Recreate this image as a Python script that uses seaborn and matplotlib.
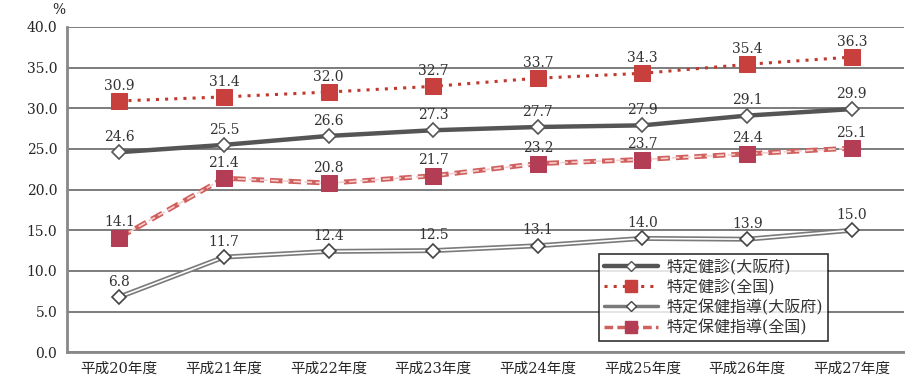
import pandas as pd
import seaborn as sns
import matplotlib.pyplot as plt
from matplotlib.lines import Line2D

# Data
years = ['平成20年度', '平成21年度', '平成22年度', '平成23年度',
         '平成24年度', '平成25年度', '平成26年度', '平成27年度']
kenshin_osaka = [24.6, 25.5, 26.6, 27.3, 27.7, 27.9, 29.1, 29.9]
kenshin_zenkoku = [30.9, 31.4, 32.0, 32.7, 33.7, 34.3, 35.4, 36.3]
shido_osaka = [6.8, 11.7, 12.4, 12.5, 13.1, 14.0, 13.9, 15.0]
shido_zenkoku = [14.1, 21.4, 20.8, 21.7, 23.2, 23.7, 24.4, 25.1]
labels = ['特定健診(大阪府)', '特定健診(全国)', '特定保健指導(大阪府)', '特定保健指導(全国)']

sns.set_style("white")
plt.rcParams['font.family'] = ['DejaVu Serif', 'Noto Sans CJK JP']

fig = plt.figure(figsize=(9.05, 3.85), dpi=100)
ax = fig.add_axes([0.074, 0.085, 0.925, 0.845])

red = '#c0392f'
gray_dark = '#555555'
gray_mid = '#7a7a7a'

# 特定健診(大阪府): thick dark line, white diamonds
sns.lineplot(x=years, y=kenshin_osaka, ax=ax, color=gray_dark, lw=3.2,
             marker='D', markersize=7, markerfacecolor='white',
             markeredgecolor=gray_dark, markeredgewidth=1.2, zorder=4)

# 特定健診(全国): red dotted, red squares
sns.lineplot(x=years, y=kenshin_zenkoku, ax=ax, color=red, lw=2.2,
             linestyle=(0, (1, 2)), marker='s', markersize=11,
             markerfacecolor='#c8403d', markeredgecolor='#c8403d', zorder=4)

# 特定保健指導(大阪府): double gray line
sns.lineplot(x=years, y=shido_osaka, ax=ax, color=gray_mid, lw=3.6, zorder=3)
sns.lineplot(x=years, y=shido_osaka, ax=ax, color='white', lw=1.2, zorder=3.1)
sns.lineplot(x=years, y=shido_osaka, ax=ax, color=gray_mid, lw=0, marker='D',
             markersize=7, markerfacecolor='white', markeredgecolor='#444444',
             markeredgewidth=1.2, zorder=4)

# 特定保健指導(全国): double red dashed line
sns.lineplot(x=years, y=shido_zenkoku, ax=ax, color='#d0605e', lw=3.6,
             linestyle=(0, (2.5, 1.2)), zorder=3)
sns.lineplot(x=years, y=shido_zenkoku, ax=ax, color='#f4d0cf', lw=1.2,
             linestyle=(0, (4.5, 2.2)), zorder=3.1)
sns.lineplot(x=years, y=shido_zenkoku, ax=ax, color=red, lw=0, marker='s',
             markersize=11, markerfacecolor='#b23d55', markeredgecolor='#b23d55',
             zorder=4)

# data labels
for series in [kenshin_osaka, kenshin_zenkoku, shido_osaka, shido_zenkoku]:
    for i, v in enumerate(series):
        ax.annotate(f'{v:.1f}', (i, v), xytext=(0, 6), textcoords='offset points',
                    ha='center', va='bottom', fontsize=10, color='#333333', zorder=5)

ax.set_ylim(0, 40)
ax.set_xlim(-0.5, len(years) - 0.5)
ax.set_yticks(range(0, 41, 5))
ax.set_yticklabels([f'{t:.1f}' for t in range(0, 41, 5)], fontsize=10)
ax.set_xticks(range(len(years)))
ax.set_xticklabels(years, fontsize=10.5)
ax.set_xticks([i + 0.5 for i in range(len(years) - 1)], minor=True)
ax.tick_params(axis='x', which='major', length=0, pad=7)
ax.tick_params(axis='x', which='minor', length=4, width=1.5, color='#888888', direction='out')
ax.tick_params(axis='y', length=4, width=1.5, color='#888888', direction='out', pad=3)
ax.set_xlabel('')
ax.set_ylabel('')
ax.yaxis.grid(True, color='#666666', lw=1.2)
ax.set_axisbelow(True)
for side in ['top', 'right']:
    ax.spines[side].set_visible(False)
for side in ['left', 'bottom']:
    ax.spines[side].set_color('#888888')
    ax.spines[side].set_linewidth(2)

fig.text(0.058, 0.955, '%', fontsize=10, ha='left', va='bottom')

# legend
handles = [
    Line2D([], [], color=gray_dark, lw=3.2, marker='D', markersize=5,
           markerfacecolor='white', markeredgecolor=gray_dark),
    Line2D([], [], color=red, lw=2.2, linestyle=(0, (1, 2)), marker='s',
           markersize=8, markerfacecolor='#c8403d', markeredgecolor='#c8403d'),
    Line2D([], [], color=gray_mid, lw=2.5, marker='D', markersize=5,
           markerfacecolor='white', markeredgecolor='#444444'),
    Line2D([], [], color='#d0605e', lw=2.5, linestyle=(0, (2.5, 1.2)), marker='s',
           markersize=8, markerfacecolor='#b23d55', markeredgecolor='#b23d55'),
]
leg = ax.legend(handles, labels, loc='lower left', bbox_to_anchor=(0.636, 0.035),
                fontsize=11.5, frameon=True, fancybox=False, handlelength=3.4,
                borderpad=0.3, labelspacing=0.2, handletextpad=0.5,
                borderaxespad=0)
leg.get_frame().set_edgecolor('black')
leg.get_frame().set_linewidth(1.2)
for t in leg.get_texts():
    t.set_color('#333333')

fig.savefig('out.png', dpi=100)
